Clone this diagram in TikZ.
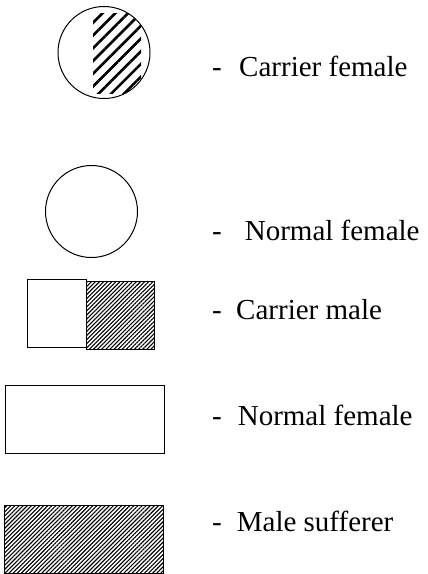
\documentclass[tikz,border=0pt]{standalone}
\usepackage{fontspec}
\setmainfont{Liberation Serif}
\usetikzlibrary{patterns.meta,calc}

\begin{document}
\begin{tikzpicture}[x=1pt,y=1pt,
  lbl/.style={anchor=base west,inner sep=0pt,font=\fontsize{29}{34}\selectfont},
  fem/.style={circle,draw,line width=1pt,minimum size=92pt,inner sep=0pt},
  box/.style={rectangle,draw,line width=1.3pt,inner sep=0pt,anchor=north west},
  finehatch/.style={pattern={Lines[angle=45,distance=2.9pt,line width=1.1pt]}},
  thickhatch/.style={pattern={Lines[angle=45,distance=9pt,line width=2.6pt]}}]
\useasboundingbox (0,0) rectangle (428,-574);
\node[fem,path picture={\fill[thickhatch] ($(path picture bounding box.center)+(-11,39.5)$) rectangle ++(48,-80);}] (cf) at (104,-52.5) {};
\node[fem] (nf) at (91.5,-211.5) {};
\node[box,minimum width=59pt,minimum height=68pt] (cml) at (27,-279) {};
\node[box,finehatch,minimum width=68pt,minimum height=68pt] (cmr) at (86,-281) {};
\node[box,minimum width=159pt,minimum height=68pt] (nr) at (5,-385) {};
\node[box,finehatch,minimum width=159pt,minimum height=68pt] (ms) at (4,-505) {};

\node[lbl] (cft) at (212,-76) {-\hspace{17.4pt}Carrier female};
\node[lbl] (nft) at (212,-240) {-\hspace{23pt}Normal female};
\node[lbl] (cmt) at (212,-319) {-\hspace{14.4pt}Carrier male};
\node[lbl] (nrt) at (212,-425) {-\hspace{16pt}Normal female};
\node[lbl] (mst) at (212,-531) {-\hspace{15pt}Male sufferer};
\end{tikzpicture}
\end{document}
